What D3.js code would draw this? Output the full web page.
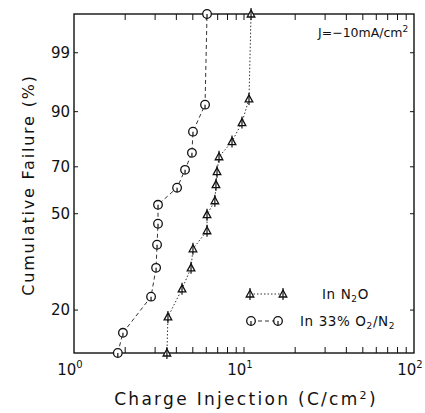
<!DOCTYPE html>
<html><head><meta charset="utf-8">
<script src="https://cdn.jsdelivr.net/npm/d3@7"></script>
<style>
html,body{margin:0;padding:0;background:#fff;}
svg{display:block;font-family:"DejaVu Sans",sans-serif;}
</style></head>
<body>
<svg id="c" width="425" height="413"></svg>
<script>
// ---- data ----
const o2n2Charge = [1.81, 1.94, 2.84, 3.04, 3.08, 3.12, 3.12, 4.04, 4.50, 4.94, 5.01, 5.90, 6.06];
const o2n2Fail   = [12.6, 15.7, 23.0, 30.7, 38.2, 46.0, 53.7, 61.0, 68.7, 75.8, 83.8, 91.8, 99.93];
const n2oCharge  = [3.52, 3.57, 4.32, 4.88, 5.01, 6.06, 6.06, 6.74, 6.84, 6.94, 7.13, 8.50, 9.73, 10.7, 11.0];
const n2oFail    = [12.6, 18.6, 24.9, 30.7, 36.8, 43.3, 49.6, 55.4, 62.3, 67.9, 74.2, 80.2, 86.8, 93.1, 99.93];
const yTicks = [20, 50, 70, 90, 99];
const xMajor = [1, 10, 100];
const xMinor = [2,3,4,5,6,7,8,9,20,30,40,50,60,70,80,90];
const yDomain = [12.6, 99.93];
const xDomain = [1, 100];

const svg = d3.select("#c");
const L = 74, R = 414, T = 14, B = 353;
const wb = p => Math.log(-Math.log(1 - p / 100));
const x = d3.scaleLog().domain(xDomain).range([L, R]);
const yw = d3.scaleLinear().domain(yDomain.map(wb)).range([B, T]);
const y = p => yw(wb(p));
const ink = "#111";

// frame
svg.append("rect").attr("x", L).attr("y", T).attr("width", R - L).attr("height", B - T)
  .attr("fill", "none").attr("stroke", ink).attr("stroke-width", 1.4);

// x ticks (bottom up, top down)
const g = svg.append("g").attr("stroke", ink).attr("stroke-width", 1);
xMinor.concat(xMajor.slice(1, 2)).forEach(v => {
  g.append("line").attr("x1", x(v)).attr("x2", x(v)).attr("y1", B).attr("y2", B - 6);
  g.append("line").attr("x1", x(v)).attr("x2", x(v)).attr("y1", T).attr("y2", T + 6);
});
// y ticks (left, right inward)
yTicks.forEach(v => {
  g.append("line").attr("x1", L).attr("x2", L + 4).attr("y1", y(v)).attr("y2", y(v));
  g.append("line").attr("x1", R).attr("x2", R - 4).attr("y1", y(v)).attr("y2", y(v));
});

// y tick labels
svg.append("g").selectAll("text").data(yTicks).join("text")
  .attr("x", L - 4).attr("y", d => y(d)).attr("dy", "0.36em")
  .attr("text-anchor", "end").attr("font-size", 15).attr("fill", ink).text(d => d);

// x tick labels 10^n
xMajor.forEach(v => {
  const t = svg.append("text").attr("x", x(v) - 4).attr("y", 375)
    .attr("text-anchor", "middle").attr("font-size", 15).attr("fill", ink);
  t.append("tspan").text("10");
  t.append("tspan").attr("dy", -7).attr("font-size", 10).text(Math.round(Math.log10(v)));
});

// axis titles
const xt = svg.append("text").attr("x", 246).attr("y", 405).attr("text-anchor", "middle")
  .attr("font-size", 17).attr("letter-spacing", 2.3).attr("fill", ink);
xt.append("tspan").text("Charge Injection (C/cm");
xt.append("tspan").attr("dy", -6).attr("font-size", 11).text("2");
xt.append("tspan").attr("dy", 6).text(")");

svg.append("text").attr("transform", "translate(34,185) rotate(-90)")
  .attr("text-anchor", "middle").attr("font-size", 16).attr("letter-spacing", 1.8)
  .attr("fill", ink).text("Cumulative Failure (%)");

// annotation
const ann = svg.append("text").attr("x", 318).attr("y", 37).attr("font-size", 12.5).attr("fill", ink);
ann.append("tspan").text("J=−10mA/cm");
ann.append("tspan").attr("dy", -5).attr("font-size", 9).text("2");

// series
const o2n2 = o2n2Charge.map((c, i) => [c, o2n2Fail[i]]);
const n2o = n2oCharge.map((c, i) => [c, n2oFail[i]]);
const line = d3.line().x(d => x(d[0])).y(d => y(d[1]));

svg.append("path").datum(o2n2).attr("d", line).attr("fill", "none")
  .attr("stroke", "#333").attr("stroke-width", 1).attr("stroke-dasharray", "4,3");
svg.append("path").datum(n2o).attr("d", line).attr("fill", "none")
  .attr("stroke", "#333").attr("stroke-width", 1).attr("stroke-dasharray", "1.5,2");

function circleMark(sel, cx, cy) {
  sel.append("circle").attr("cx", cx).attr("cy", cy).attr("r", 4.3)
    .attr("fill", "#fff").attr("stroke", ink).attr("stroke-width", 1.3);
  sel.append("line").attr("x1", cx).attr("x2", cx).attr("y1", cy).attr("y2", cy + 4)
    .attr("stroke", ink).attr("stroke-width", 1.2);
}
function triMark(sel, cx, cy) {
  sel.append("path").attr("d", `M${cx},${cy - 4}L${cx + 3.8},${cy + 3}L${cx - 3.8},${cy + 3}Z`)
    .attr("fill", "#fff").attr("stroke", ink).attr("stroke-width", 1.3);
  sel.append("line").attr("x1", cx).attr("x2", cx).attr("y1", cy - 6).attr("y2", cy + 6)
    .attr("stroke", ink).attr("stroke-width", 1.2);
}
const mk = svg.append("g");
o2n2.forEach(d => circleMark(mk, x(d[0]), y(d[1])));
n2o.forEach(d => triMark(mk, x(d[0]), y(d[1])));

// legend
const lg = svg.append("g");
lg.append("line").attr("x1", 250).attr("x2", 283).attr("y1", 294).attr("y2", 294)
  .attr("stroke", "#333").attr("stroke-dasharray", "1.5,2");
triMark(lg, 250, 294); triMark(lg, 283, 294);
const l1 = lg.append("text").attr("x", 322).attr("y", 299).attr("font-size", 13.5)
  .attr("letter-spacing", 0.6).attr("fill", ink);
l1.append("tspan").text("In  N");
l1.append("tspan").attr("dy", 3).attr("font-size", 9).text("2");
l1.append("tspan").attr("dy", -3).text("O");

lg.append("line").attr("x1", 251).attr("x2", 278).attr("y1", 321).attr("y2", 321)
  .attr("stroke", "#333").attr("stroke-dasharray", "4,3");
circleMark(lg, 251, 321); circleMark(lg, 278, 321);
const l2 = lg.append("text").attr("x", 300).attr("y", 326).attr("font-size", 13.5)
  .attr("letter-spacing", 0.6).attr("fill", ink);
l2.append("tspan").text("In  33%  O");
l2.append("tspan").attr("dy", 3).attr("font-size", 9).text("2");
l2.append("tspan").attr("dy", -3).text("/N");
l2.append("tspan").attr("dy", 3).attr("font-size", 9).text("2");
</script>
</body></html>
